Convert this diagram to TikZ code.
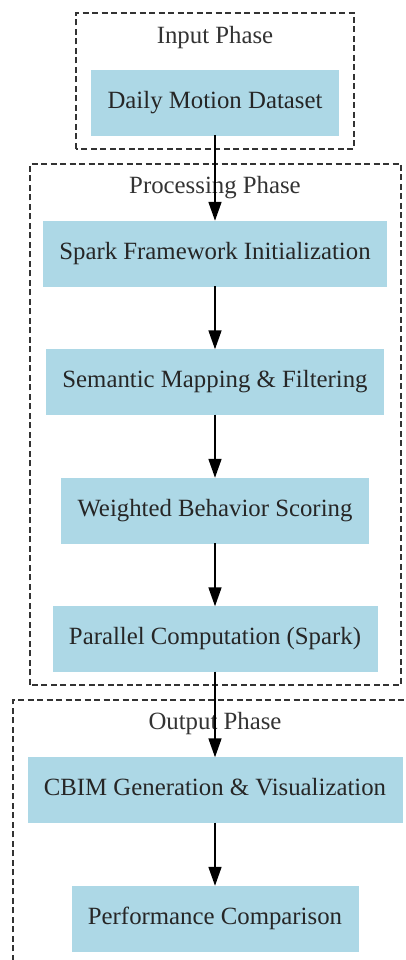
\documentclass[tikz,border=0pt]{standalone}
\usepackage{fontspec}
\setmainfont{Liberation Serif}
\usepackage{tikz}
\usetikzlibrary{positioning,arrows.meta}
\definecolor{lightblue}{HTML}{ADD8E6}

\begin{document}
\begin{tikzpicture}[x=1pt,y=1pt,node distance=128.5pt,on grid,
        block/.style={rectangle,fill=lightblue,draw=lightblue,text=black!85,
            font=\fontsize{24.8}{30}\selectfont,text height=17pt,text depth=5.5pt,
            minimum height=65pt,inner xsep=16pt},
        phase/.style={draw=black!80,dash pattern=on 6pt off 3.5pt,line width=1.6pt},
        title/.style={text=black!80,font=\fontsize{24.8}{30}\selectfont,
            text height=17pt,text depth=5.5pt}]
            \useasboundingbox (0,0) rectangle (406,960);
            % phases
            \draw[phase] (76,811) rectangle (354,947);
            \node[title] (T_0) at (215,922.5) {Input Phase};
            \draw[phase] (30,275) rectangle (401,796);
            \node[title] (T_1) at (215,772.5) {Processing Phase};
            \draw[phase] (13,-20) rectangle (430,260);
            \node[title] (T_2) at (215,236.5) {Output Phase};
            % steps
            \node[block] (S_0) at (215,857.5) {Daily Motion Dataset};
            \node[block] (S_1) [below=151pt of S_0] {Spark Framework Initialization};
            \node[block] (S_2) [below=of S_1] {Semantic Mapping \& Filtering};
            \node[block] (S_3) [below=of S_2] {Weighted Behavior Scoring};
            \node[block] (S_4) [below=of S_3] {Parallel Computation (Spark)};
            \node[block] (S_5) [below=151pt of S_4] {CBIM Generation \& Visualization};
            \node[block] (S_6) [below=of S_5] {Performance Comparison};
            \path[-{Triangle[length=19pt,width=13pt]},line width=1.75pt]
                (S_0) edge (S_1)
                (S_1) edge (S_2)
                (S_2) edge (S_3)
                (S_3) edge (S_4)
                (S_4) edge (S_5)
                (S_5) edge (S_6);
        \end{tikzpicture}
\end{document}
